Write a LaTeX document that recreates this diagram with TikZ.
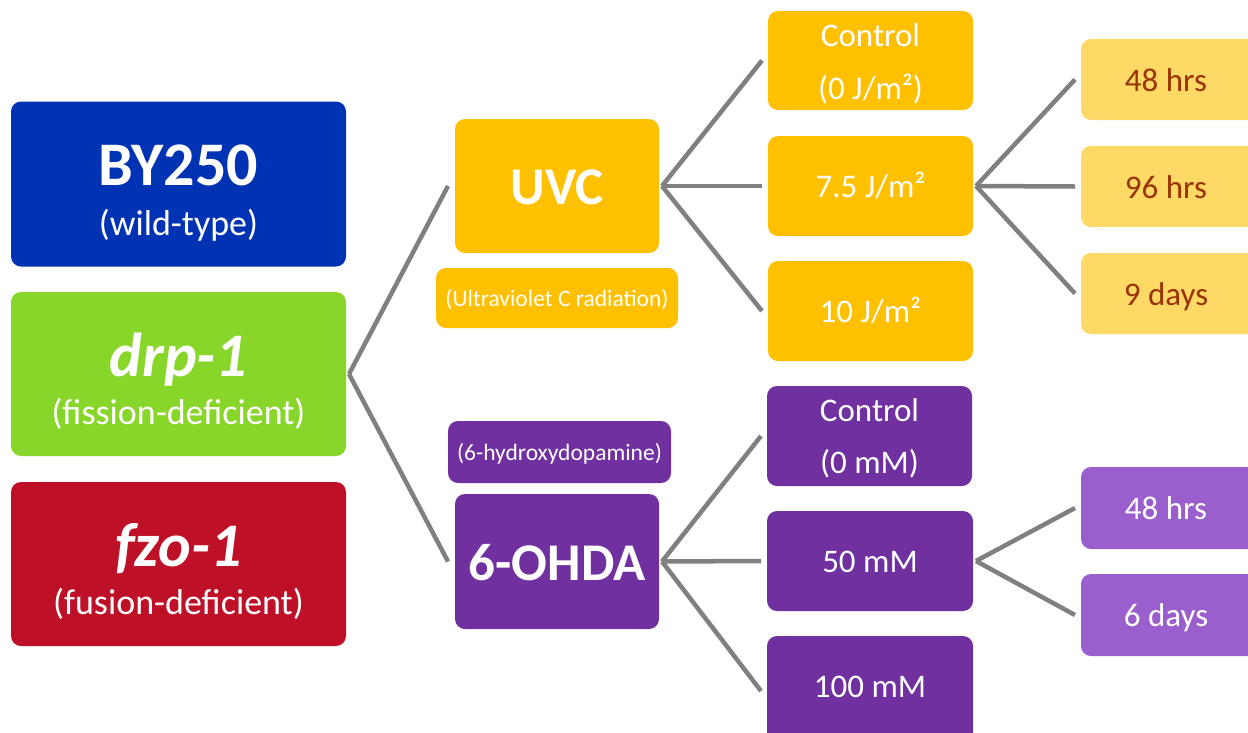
\documentclass[tikz,border=0pt]{standalone}
\usepackage{fontspec}
\setmainfont{Carlito}
\usetikzlibrary{calc}
\definecolor{cblue}{RGB}{0,51,179}
\definecolor{cgreen}{RGB}{136,214,42}
\definecolor{cred}{RGB}{190,17,40}
\definecolor{corange}{RGB}{255,192,0}
\definecolor{cyellow}{RGB}{255,217,102}
\definecolor{cbrown}{RGB}{153,51,0}
\definecolor{cpurple}{RGB}{112,48,160}
\definecolor{clpurple}{RGB}{155,95,205}
\definecolor{linegray}{RGB}{128,128,128}
\newcommand{\fs}[1]{\fontsize{#1}{#1}\selectfont}
\begin{document}
\begin{tikzpicture}[x=1pt,y=-1pt,
  box/.style={rounded corners=10pt, inner sep=0pt, outer sep=0pt, draw=none},
  link/.style={draw=linegray, line width=4.5pt},
  txt/.style={text=white, inner sep=0pt, anchor=base},
  big/.style={txt, font=\fs{62}\bfseries},
  mid/.style={txt, font=\fs{53}\bfseries},
  sub/.style={txt, font=\fs{36}},
  small/.style={txt, font=\fs{33}},
  tiny/.style={txt, font=\fs{23.5}}]
\clip (0,0) rectangle (1248,732);
\fill[white] (0,0) rectangle (1248,732);
% left column
\node[box, fill=cblue, minimum width=335pt, minimum height=165pt] (by) at (178.5,184) {};
\node[big] (byt) at (178.5,185) {BY250};
\node[sub] (bys) at (178.5,235) {(wild-type)};
\node[box, fill=cgreen, minimum width=335pt, minimum height=164pt] (drp) at (178.5,374) {};
\node[big] (drpt) at (178.5,376) {\itshape drp-1};
\node[sub] (drps) at (178.5,424) {(fission-deficient)};
\node[box, fill=cred, minimum width=335pt, minimum height=164pt] (fzo) at (178.5,564) {};
\node[big] (fzot) at (178.5,566) {\itshape fzo-1};
\node[sub] (fzos) at (178.5,614) {(fusion-deficient)};
% middle column
\node[box, fill=corange, minimum width=204pt, minimum height=134pt] (uvc) at (557,186) {};
\node[mid] (uvct) at (557,204) {UVC};
\node[box, fill=corange, minimum width=242pt, minimum height=60pt] (uvl) at (557,298) {};
\node[tiny] (uvlt) at (557,306) {(Ultraviolet C radiation)};
\node[box, fill=cpurple, minimum width=223pt, minimum height=62pt] (ohl) at (559.5,452) {};
\node[tiny] (ohlt) at (559.5,460) {(6-hydroxydopamine)};
\node[box, fill=cpurple, minimum width=204pt, minimum height=135pt] (oh) at (557,561.5) {};
\node[mid] (oht) at (557,580) {6-OHDA};
% UVC doses
\node[box, fill=corange, minimum width=205pt, minimum height=99pt] (c1) at (870.5,60.5) {};
\node[small] (c1a) at (870.5,46) {Control};
\node[small] (c1b) at (870.5,99) {(0 J/m²)};
\node[box, fill=corange, minimum width=205pt, minimum height=100pt] (c2) at (870.5,186) {};
\node[small] (c2t) at (870.5,197) {7.5 J/m²};
\node[box, fill=corange, minimum width=205pt, minimum height=100pt] (c3) at (870.5,311) {};
\node[small] (c3t) at (870.5,322) {10 J/m²};
% UVC times
\node[box, fill=cyellow, minimum width=190pt, minimum height=81pt] (t1) at (1176,79.5) {};
\node[small, text=cbrown] (t1t) at (1166,91) {48 hrs};
\node[box, fill=cyellow, minimum width=190pt, minimum height=81pt] (t2) at (1176,186.5) {};
\node[small, text=cbrown] (t2t) at (1166,198) {96 hrs};
\node[box, fill=cyellow, minimum width=190pt, minimum height=81pt] (t3) at (1176,293.5) {};
\node[small, text=cbrown] (t3t) at (1166,305) {9 days};
% 6-OHDA doses
\node[box, fill=cpurple, minimum width=205pt, minimum height=100pt] (p1) at (869.5,436) {};
\node[small] (p1a) at (869.5,421) {Control};
\node[small] (p1b) at (869.5,473) {(0 mM)};
\node[box, fill=cpurple, minimum width=206pt, minimum height=100pt] (p2) at (870,561) {};
\node[small] (p2t) at (870,572) {50 mM};
\node[box, fill=cpurple, minimum width=206pt, minimum height=110pt] (p3) at (870,691) {};
\node[small] (p3t) at (870,697) {100 mM};
% 6-OHDA times
\node[box, fill=clpurple, minimum width=190pt, minimum height=82pt] (q1) at (1176,508) {};
\node[small] (q1t) at (1166,519) {48 hrs};
\node[box, fill=clpurple, minimum width=190pt, minimum height=82pt] (q2) at (1176,615) {};
\node[small] (q2t) at (1166,626) {6 days};
% connectors
\draw[link] ($(drp.east)+(3,0)$) -- ($(uvc.west)+(-7,0)$);
\draw[link] ($(drp.east)+(3,0)$) -- ($(oh.west)+(-7,0)$);
\draw[link] ($(uvc.east)+(3,0)$) -- ($(c1.west)+(-6,0)$);
\draw[link] ($(uvc.east)+(3,0)$) -- ($(c2.west)+(-6,0)$);
\draw[link] ($(uvc.east)+(3,0)$) -- ($(c3.west)+(-6,0)$);
\draw[link] ($(c2.east)+(3,0)$) -- ($(t1.west)+(-6,0)$);
\draw[link] ($(c2.east)+(3,0)$) -- ($(t2.west)+(-6,0)$);
\draw[link] ($(c2.east)+(3,0)$) -- ($(t3.west)+(-6,0)$);
\draw[link] ($(oh.east)+(3,0)$) -- ($(p1.west)+(-6,0)$);
\draw[link] ($(oh.east)+(3,0)$) -- ($(p2.west)+(-6,0)$);
\draw[link] ($(oh.east)+(3,0)$) -- ($(p3.west)+(-6,0)$);
\draw[link] ($(p2.east)+(3,0)$) -- ($(q1.west)+(-6,0)$);
\draw[link] ($(p2.east)+(3,0)$) -- ($(q2.west)+(-6,0)$);
\end{tikzpicture}
\end{document}
